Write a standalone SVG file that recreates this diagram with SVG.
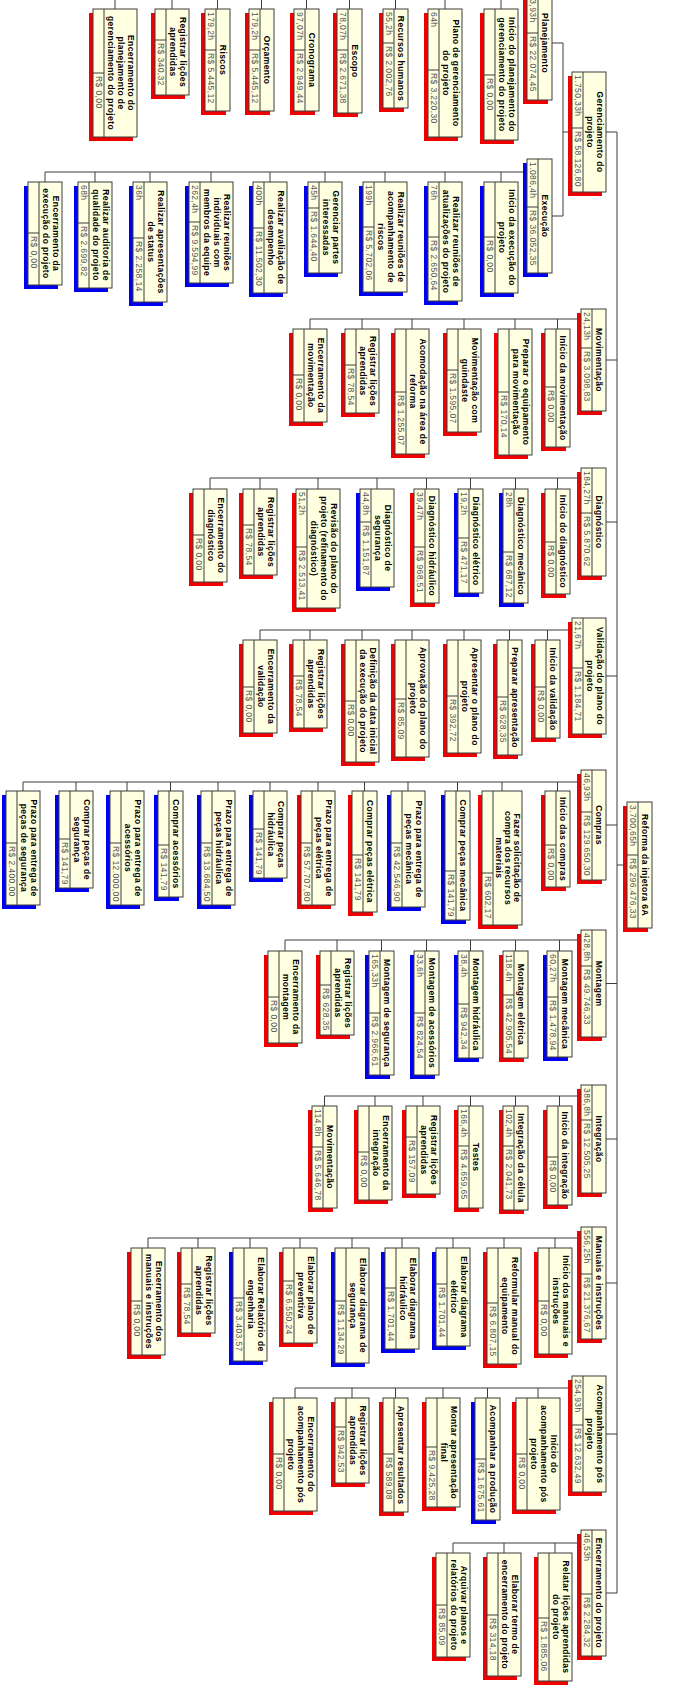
<svg xmlns="http://www.w3.org/2000/svg" width="699" height="1686" viewBox="0 0 699 1686">
<style>
.bx{fill:#ffffe1;stroke:#3c3c3c;stroke-width:1}
.sr{fill:#f00000}
.sb{fill:#0000f0}
.dv{stroke:#3c3c3c;stroke-width:1;fill:none}
.cn{stroke:#3c3c3c;stroke-width:1;fill:none}
.t{font-family:"Liberation Sans",Arial,sans-serif;font-size:8.5px;font-weight:bold;fill:#000;text-anchor:middle;letter-spacing:0.4px}
.v{font-family:"Liberation Sans",Arial,sans-serif;font-size:8.5px;fill:#555;letter-spacing:0.4px}
</style>
<rect width="699" height="1686" fill="#fff"/>
<g id="connectors" class="cn">
<path d="M617 132V1593M617 865H627M606 132H617M606 360H617M606 522H617M606 676H617M606 825H617M606 983.5H617M606 1139H617M606 1283H617M606 1434H617M606 1593H617"/>
<path d="M572 132H563M563 43V216M563 43H552M563 216H552"/>
<path d="M527 -3H115M501 -3V9M445 -3V9M395.5 -3V9M349.5 -3V9M306.5 -3V9M261.5 -3V9M217.5 -3V9M172 -3V9M115 -3V9"/>
<path d="M528 172H45M501 172V182M445 172V182M385 172V182M325 172V182M270 172V182M211 172V182M150 172V182M95 172V182M45 172V182"/>
<path d="M581 319H310M557.5 319V329M515 319V329M464 319V329M412 319V329M362 319V329M310 319V329"/>
<path d="M581 478H210M557.5 478V489M515.5 478V489M470.5 478V489M426.5 478V489M377 478V489M318 478V489M260 478V489M210 478V489"/>
<path d="M572 630H260M547.5 630V640M509.5 630V640M464 630V640M412 630V640M362 630V640M310 630V640M260 630V640"/>
<path d="M581 782H23M557.5 782V791M502 782V791M457.5 782V791M408 782V791M364.5 782V791M318 782V791M270 782V791M218 782V791M170.5 782V791M127 782V791M76 782V791M23 782V791"/>
<path d="M581 940H285M559.5 940V951M515.5 940V951M470.5 940V951M426.5 940V951M381.5 940V951M337 940V951M285 940V951"/>
<path d="M581 1096H324.5M559.5 1096V1106M515.5 1096V1106M470.5 1096V1106M423 1096V1106M375 1096V1106M324.5 1096V1106"/>
<path d="M581 1238H148M555 1238V1248M504 1238V1248M453 1238V1248M402 1238V1248M352 1238V1248M300 1238V1248M250 1238V1248M198 1238V1248M148 1238V1248"/>
<path d="M572 1388H295M538 1388V1398M487.5 1388V1398M443 1388V1398M395.5 1388V1398M352 1388V1398M295 1388V1398"/>
<path d="M581 1543H453M555 1543V1553M504 1543V1553M453 1543V1553"/>
</g>

<g id="n-root" transform="translate(652,802) rotate(90)"><rect class="sr" x="4" y="4" width="126" height="25"/><rect class="bx" width="126" height="25"/><path class="dv" d="M0 14H126M53 14V25"/><text class="t" x="63" y="10.5">Reforma da injetora 6A</text><text class="v" x="3" y="22.5">3.700,65h</text><text class="v" x="56" y="22.5">R$ 296.476,33</text></g>

<g id="n-gerenciamento" transform="translate(606,72) rotate(90)"><rect class="sr" x="4" y="4" width="120" height="34"/><rect class="bx" width="120" height="34"/><path class="dv" d="M0 23H120M56 23V34"/><text class="t" x="60" y="9.5">Gerenciamento do</text><text class="t" x="60" y="19.5">projeto</text><text class="v" x="3" y="31.5">1.750,33h</text><text class="v" x="59" y="31.5">R$ 58.126,80</text></g>

<g id="n-planejamento" transform="translate(552,-14) rotate(90)"><rect class="sr" x="4" y="4" width="114" height="25"/><rect class="bx" width="114" height="25"/><path class="dv" d="M0 14H114M47 14V25"/><text class="t" x="57" y="10.5">Planejamento</text><text class="v" x="3" y="22.5">663,93h</text><text class="v" x="50" y="22.5">R$ 22.074,45</text></g>

<g id="n-p1" transform="translate(518,9) rotate(90)"><rect class="sr" x="4" y="4" width="131" height="34"/><rect class="bx" width="131" height="34"/><path class="dv" d="M0 23H131M66 23V34"/><text class="t" x="65.5" y="9.5">Início do planejamento do</text><text class="t" x="65.5" y="19.5">gerenciamento do projeto</text><text class="v" x="69" y="31.5">R$ 0,00</text></g>
<g id="n-p2" transform="translate(462,9) rotate(90)"><rect class="sr" x="4" y="4" width="128" height="34"/><rect class="bx" width="128" height="34"/><path class="dv" d="M0 23H128M61 23V34"/><text class="t" x="64" y="9.5">Plano de gerenciamento</text><text class="t" x="64" y="19.5">do projeto</text><text class="v" x="3" y="31.5">64h</text><text class="v" x="64" y="31.5">R$ 3.220,30</text></g>
<g id="n-p3" transform="translate(408,9) rotate(90)"><rect class="sr" x="4" y="4" width="99" height="25"/><rect class="bx" width="99" height="25"/><path class="dv" d="M0 14H99M34 14V25"/><text class="t" x="49.5" y="10.5">Recursos humanos</text><text class="v" x="3" y="22.5">55,2h</text><text class="v" x="37" y="22.5">R$ 2.002,76</text></g>
<g id="n-p4" transform="translate(362,9) rotate(90)"><rect class="sr" x="4" y="4" width="104" height="25"/><rect class="bx" width="104" height="25"/><path class="dv" d="M0 14H104M41 14V25"/><text class="t" x="52" y="10.5">Escopo</text><text class="v" x="3" y="22.5">78,07h</text><text class="v" x="44" y="22.5">R$ 2.671,38</text></g>
<g id="n-p5" transform="translate(319,9) rotate(90)"><rect class="sr" x="4" y="4" width="102" height="25"/><rect class="bx" width="102" height="25"/><path class="dv" d="M0 14H102M41 14V25"/><text class="t" x="51" y="10.5">Cronograma</text><text class="v" x="3" y="22.5">97,07h</text><text class="v" x="44" y="22.5">R$ 2.949,44</text></g>
<g id="n-p6" transform="translate(274,9) rotate(90)"><rect class="sr" x="4" y="4" width="102" height="25"/><rect class="bx" width="102" height="25"/><path class="dv" d="M0 14H102M41 14V25"/><text class="t" x="51" y="10.5">Orçamento</text><text class="v" x="3" y="22.5">179,2h</text><text class="v" x="44" y="22.5">R$ 5.445,12</text></g>
<g id="n-p7" transform="translate(230,9) rotate(90)"><rect class="sr" x="4" y="4" width="102" height="25"/><rect class="bx" width="102" height="25"/><path class="dv" d="M0 14H102M41 14V25"/><text class="t" x="51" y="10.5">Riscos</text><text class="v" x="3" y="22.5">179,2h</text><text class="v" x="44" y="22.5">R$ 5.445,12</text></g>
<g id="n-p8" transform="translate(189,9) rotate(90)"><rect class="sr" x="4" y="4" width="86" height="34"/><rect class="bx" width="86" height="34"/><path class="dv" d="M0 23H86M31 23V34"/><text class="t" x="43" y="9.5">Registrar lições</text><text class="t" x="43" y="19.5">aprendidas</text><text class="v" x="34" y="31.5">R$ 340,32</text></g>
<g id="n-p9" transform="translate(137,9) rotate(90)"><rect class="sr" x="4" y="4" width="128" height="44"/><rect class="bx" width="128" height="44"/><path class="dv" d="M0 33H128M64 33V44"/><text class="t" x="64" y="9.5">Encerramento do</text><text class="t" x="64" y="19.5">planejamento de</text><text class="t" x="64" y="29.5">gerenciamento do projeto</text><text class="v" x="67" y="41.5">R$ 0,00</text></g>

<g id="n-execucao" transform="translate(552,159) rotate(90)"><rect class="sb" x="4" y="4" width="114" height="25"/><rect class="bx" width="114" height="25"/><path class="dv" d="M0 14H114M48 14V25"/><text class="t" x="57" y="10.5">Execução</text><text class="v" x="3" y="22.5">1.086,4h</text><text class="v" x="51" y="22.5">R$ 36.052,35</text></g>

<g id="n-x1" transform="translate(518,182) rotate(90)"><rect class="sb" x="4" y="4" width="111" height="34"/><rect class="bx" width="111" height="34"/><path class="dv" d="M0 23H111M55 23V34"/><text class="t" x="55.5" y="9.5">Início da execução do</text><text class="t" x="55.5" y="19.5">projeto</text><text class="v" x="58" y="31.5">R$ 0,00</text></g>
<g id="n-x2" transform="translate(462,182) rotate(90)"><rect class="sb" x="4" y="4" width="119" height="34"/><rect class="bx" width="119" height="34"/><path class="dv" d="M0 23H119M55 23V34"/><text class="t" x="59.5" y="9.5">Realizar reuniões de</text><text class="t" x="59.5" y="19.5">atualizações do projeto</text><text class="v" x="3" y="31.5">76h</text><text class="v" x="58" y="31.5">R$ 2.650,64</text></g>
<g id="n-x3" transform="translate(407,182) rotate(90)"><rect class="sb" x="4" y="4" width="110" height="44"/><rect class="bx" width="110" height="44"/><path class="dv" d="M0 33H110M45 33V44"/><text class="t" x="55" y="9.5">Realizar reuniões de</text><text class="t" x="55" y="19.5">acompanhamento de</text><text class="t" x="55" y="29.5">riscos</text><text class="v" x="3" y="41.5">199h</text><text class="v" x="48" y="41.5">R$ 5.702,06</text></g>
<g id="n-x4" transform="translate(342,182) rotate(90)"><rect class="sb" x="4" y="4" width="91" height="34"/><rect class="bx" width="91" height="34"/><path class="dv" d="M0 23H91M26 23V34"/><text class="t" x="45.5" y="9.5">Gerenciar partes</text><text class="t" x="45.5" y="19.5">interessadas</text><text class="v" x="3" y="31.5">45h</text><text class="v" x="29" y="31.5">R$ 1.644,40</text></g>
<g id="n-x5" transform="translate(287,182) rotate(90)"><rect class="sb" x="4" y="4" width="111" height="34"/><rect class="bx" width="111" height="34"/><path class="dv" d="M0 23H111M46 23V34"/><text class="t" x="55.5" y="9.5">Realizar avaliação de</text><text class="t" x="55.5" y="19.5">desempenho</text><text class="v" x="3" y="31.5">400h</text><text class="v" x="49" y="31.5">R$ 11.502,30</text></g>
<g id="n-x6" transform="translate(233,182) rotate(90)"><rect class="sb" x="4" y="4" width="101" height="44"/><rect class="bx" width="101" height="44"/><path class="dv" d="M0 33H101M40 33V44"/><text class="t" x="50.5" y="9.5">Realizar reuniões</text><text class="t" x="50.5" y="19.5">individuais com</text><text class="t" x="50.5" y="29.5">membros da equipe</text><text class="v" x="3" y="41.5">262,4h</text><text class="v" x="43" y="41.5">R$ 9.594,99</text></g>
<g id="n-x7" transform="translate(167,182) rotate(90)"><rect class="sb" x="4" y="4" width="120" height="34"/><rect class="bx" width="120" height="34"/><path class="dv" d="M0 23H120M56 23V34"/><text class="t" x="60" y="9.5">Realizar apresentações</text><text class="t" x="60" y="19.5">de status</text><text class="v" x="3" y="31.5">36h</text><text class="v" x="59" y="31.5">R$ 2.258,14</text></g>
<g id="n-x8" transform="translate(112,182) rotate(90)"><rect class="sb" x="4" y="4" width="106" height="34"/><rect class="bx" width="106" height="34"/><path class="dv" d="M0 23H106M41 23V34"/><text class="t" x="53" y="9.5">Realizar auditoria de</text><text class="t" x="53" y="19.5">qualidade do projeto</text><text class="v" x="3" y="31.5">68h</text><text class="v" x="44" y="31.5">R$ 2.699,82</text></g>
<g id="n-x9" transform="translate(62,182) rotate(90)"><rect class="sb" x="4" y="4" width="103" height="34"/><rect class="bx" width="103" height="34"/><path class="dv" d="M0 23H103M51 23V34"/><text class="t" x="51.5" y="9.5">Encerramento da</text><text class="t" x="51.5" y="19.5">execução do projeto</text><text class="v" x="54" y="31.5">R$ 0,00</text></g>

<g id="n-movimentacao" transform="translate(606,309) rotate(90)"><rect class="sr" x="4" y="4" width="102" height="25"/><rect class="bx" width="102" height="25"/><path class="dv" d="M0 14H102M39 14V25"/><text class="t" x="51" y="10.5">Movimentação</text><text class="v" x="3" y="22.5">24,13h</text><text class="v" x="42" y="22.5">R$ 3.098,83</text></g>
<g id="n-m1" transform="translate(570,329) rotate(90)"><rect class="sr" x="4" y="4" width="118" height="25"/><rect class="bx" width="118" height="25"/><path class="dv" d="M0 14H118M58 14V25"/><text class="t" x="59" y="10.5">Início da movimentação</text><text class="v" x="61" y="22.5">R$ 0,00</text></g>
<g id="n-m2" transform="translate(532,329) rotate(90)"><rect class="sr" x="4" y="4" width="126" height="34"/><rect class="bx" width="126" height="34"/><path class="dv" d="M0 23H126M63 23V34"/><text class="t" x="63" y="9.5">Preparar o equipamento</text><text class="t" x="63" y="19.5">para movimentação</text><text class="v" x="66" y="31.5">R$ 170,14</text></g>
<g id="n-m3" transform="translate(481,329) rotate(90)"><rect class="sr" x="4" y="4" width="103" height="34"/><rect class="bx" width="103" height="34"/><path class="dv" d="M0 23H103M41 23V34"/><text class="t" x="51.5" y="9.5">Movimentação com</text><text class="t" x="51.5" y="19.5">guindaste</text><text class="v" x="44" y="31.5">R$ 1.595,07</text></g>
<g id="n-m4" transform="translate(429,329) rotate(90)"><rect class="sr" x="4" y="4" width="125" height="34"/><rect class="bx" width="125" height="34"/><path class="dv" d="M0 23H125M63 23V34"/><text class="t" x="62.5" y="9.5">Acomodação na área de</text><text class="t" x="62.5" y="19.5">reforma</text><text class="v" x="66" y="31.5">R$ 1.255,07</text></g>
<g id="n-m5" transform="translate(379,329) rotate(90)"><rect class="sr" x="4" y="4" width="84" height="34"/><rect class="bx" width="84" height="34"/><path class="dv" d="M0 23H84M36 23V34"/><text class="t" x="42" y="9.5">Registrar lições</text><text class="t" x="42" y="19.5">aprendidas</text><text class="v" x="39" y="31.5">R$ 78,54</text></g>
<g id="n-m6" transform="translate(327,329) rotate(90)"><rect class="sr" x="4" y="4" width="93" height="34"/><rect class="bx" width="93" height="34"/><path class="dv" d="M0 23H93M46 23V34"/><text class="t" x="46.5" y="9.5">Encerramento da</text><text class="t" x="46.5" y="19.5">movimentação</text><text class="v" x="49" y="31.5">R$ 0,00</text></g>

<g id="n-diagnostico" transform="translate(606,468) rotate(90)"><rect class="sr" x="4" y="4" width="108" height="25"/><rect class="bx" width="108" height="25"/><path class="dv" d="M0 14H108M45 14V25"/><text class="t" x="54" y="10.5">Diagnóstico</text><text class="v" x="3" y="22.5">184,27h</text><text class="v" x="48" y="22.5">R$ 5.870,62</text></g>
<g id="n-d1" transform="translate(570,489) rotate(90)"><rect class="sr" x="4" y="4" width="105" height="25"/><rect class="bx" width="105" height="25"/><path class="dv" d="M0 14H105M53 14V25"/><text class="t" x="52.5" y="10.5">Início do diagnóstico</text><text class="v" x="56" y="22.5">R$ 0,00</text></g>
<g id="n-d2" transform="translate(528,489) rotate(90)"><rect class="sb" x="4" y="4" width="114" height="25"/><rect class="bx" width="114" height="25"/><path class="dv" d="M0 14H114M63 14V25"/><text class="t" x="57" y="10.5">Diagnóstico mecânico</text><text class="v" x="3" y="22.5">28h</text><text class="v" x="66" y="22.5">R$ 687,12</text></g>
<g id="n-d3" transform="translate(483,489) rotate(90)"><rect class="sb" x="4" y="4" width="104" height="25"/><rect class="bx" width="104" height="25"/><path class="dv" d="M0 14H104M49 14V25"/><text class="t" x="52" y="10.5">Diagnóstico elétrico</text><text class="v" x="3" y="22.5">19,2h</text><text class="v" x="52" y="22.5">R$ 471,17</text></g>
<g id="n-d4" transform="translate(439,489) rotate(90)"><rect class="sr" x="4" y="4" width="114" height="25"/><rect class="bx" width="114" height="25"/><path class="dv" d="M0 14H114M58 14V25"/><text class="t" x="57" y="10.5">Diagnóstico hidráulico</text><text class="v" x="3" y="22.5">39,47h</text><text class="v" x="61" y="22.5">R$ 968,51</text></g>
<g id="n-d5" transform="translate(394,489) rotate(90)"><rect class="sb" x="4" y="4" width="98" height="34"/><rect class="bx" width="98" height="34"/><path class="dv" d="M0 23H98M33 23V34"/><text class="t" x="49" y="9.5">Diagnóstico de</text><text class="t" x="49" y="19.5">segurança</text><text class="v" x="3" y="31.5">44,8h</text><text class="v" x="36" y="31.5">R$ 1.151,87</text></g>
<g id="n-d6" transform="translate(340,489) rotate(90)"><rect class="sr" x="4" y="4" width="119" height="44"/><rect class="bx" width="119" height="44"/><path class="dv" d="M0 33H119M58 33V44"/><text class="t" x="59.5" y="9.5">Revisão do plano do</text><text class="t" x="59.5" y="19.5">projeto (refinamento do</text><text class="t" x="59.5" y="29.5">diagnóstico)</text><text class="v" x="3" y="41.5">51,2h</text><text class="v" x="61" y="41.5">R$ 2.513,41</text></g>
<g id="n-d7" transform="translate(277,489) rotate(90)"><rect class="sr" x="4" y="4" width="86" height="34"/><rect class="bx" width="86" height="34"/><path class="dv" d="M0 23H86M36 23V34"/><text class="t" x="43" y="9.5">Registrar lições</text><text class="t" x="43" y="19.5">aprendidas</text><text class="v" x="39" y="31.5">R$ 78,54</text></g>
<g id="n-d8" transform="translate(227,489) rotate(90)"><rect class="sr" x="4" y="4" width="93" height="34"/><rect class="bx" width="93" height="34"/><path class="dv" d="M0 23H93M46 23V34"/><text class="t" x="46.5" y="9.5">Encerramento do</text><text class="t" x="46.5" y="19.5">diagnóstico</text><text class="v" x="49" y="31.5">R$ 0,00</text></g>

<g id="n-validacao" transform="translate(606,618) rotate(90)"><rect class="sr" x="4" y="4" width="116" height="34"/><rect class="bx" width="116" height="34"/><path class="dv" d="M0 23H116M50 23V34"/><text class="t" x="58" y="9.5">Validação do plano do</text><text class="t" x="58" y="19.5">projeto</text><text class="v" x="3" y="31.5">21,67h</text><text class="v" x="53" y="31.5">R$ 1.184,71</text></g>
<g id="n-v1" transform="translate(560,640) rotate(90)"><rect class="sr" x="4" y="4" width="98" height="25"/><rect class="bx" width="98" height="25"/><path class="dv" d="M0 14H98M47 14V25"/><text class="t" x="49" y="10.5">Início da validação</text><text class="v" x="50" y="22.5">R$ 0,00</text></g>
<g id="n-v2" transform="translate(522,640) rotate(90)"><rect class="sr" x="4" y="4" width="115" height="25"/><rect class="bx" width="115" height="25"/><path class="dv" d="M0 14H115M57 14V25"/><text class="t" x="57.5" y="10.5">Preparar apresentação</text><text class="v" x="60" y="22.5">R$ 628,35</text></g>
<g id="n-v3" transform="translate(481,640) rotate(90)"><rect class="sr" x="4" y="4" width="113" height="34"/><rect class="bx" width="113" height="34"/><path class="dv" d="M0 23H113M56 23V34"/><text class="t" x="56.5" y="9.5">Apresentar o plano do</text><text class="t" x="56.5" y="19.5">projeto</text><text class="v" x="59" y="31.5">R$ 392,72</text></g>
<g id="n-v4" transform="translate(429,640) rotate(90)"><rect class="sr" x="4" y="4" width="117" height="34"/><rect class="bx" width="117" height="34"/><path class="dv" d="M0 23H117M59 23V34"/><text class="t" x="58.5" y="9.5">Aprovação do plano do</text><text class="t" x="58.5" y="19.5">projeto</text><text class="v" x="62" y="31.5">R$ 85,09</text></g>
<g id="n-v5" transform="translate(379,640) rotate(90)"><rect class="sr" x="4" y="4" width="122" height="34"/><rect class="bx" width="122" height="34"/><path class="dv" d="M0 23H122M61 23V34"/><text class="t" x="61" y="9.5">Definição da data inicial</text><text class="t" x="61" y="19.5">da execução do projeto</text><text class="v" x="64" y="31.5">R$ 0,00</text></g>
<g id="n-v6" transform="translate(327,640) rotate(90)"><rect class="sr" x="4" y="4" width="88" height="34"/><rect class="bx" width="88" height="34"/><path class="dv" d="M0 23H88M36 23V34"/><text class="t" x="44" y="9.5">Registrar lições</text><text class="t" x="44" y="19.5">aprendidas</text><text class="v" x="39" y="31.5">R$ 78,54</text></g>
<g id="n-v7" transform="translate(277,640) rotate(90)"><rect class="sr" x="4" y="4" width="93" height="34"/><rect class="bx" width="93" height="34"/><path class="dv" d="M0 23H93M47 23V34"/><text class="t" x="46.5" y="9.5">Encerramento da</text><text class="t" x="46.5" y="19.5">validação</text><text class="v" x="50" y="31.5">R$ 0,00</text></g>

<g id="n-compras" transform="translate(606,770) rotate(90)"><rect class="sr" x="4" y="4" width="110" height="25"/><rect class="bx" width="110" height="25"/><path class="dv" d="M0 14H110M42 14V25"/><text class="t" x="55" y="10.5">Compras</text><text class="v" x="3" y="22.5">46,93h</text><text class="v" x="45" y="22.5">R$ 129.650,30</text></g>
<g id="n-c1" transform="translate(570,791) rotate(90)"><rect class="sr" x="4" y="4" width="96" height="25"/><rect class="bx" width="96" height="25"/><path class="dv" d="M0 14H96M54 14V25"/><text class="t" x="48" y="10.5">Início das compras</text><text class="v" x="57" y="22.5">R$ 0,00</text></g>
<g id="n-c2" transform="translate(522,791) rotate(90)"><rect class="sr" x="4" y="4" width="134" height="40"/><rect class="bx" width="134" height="40"/><path class="dv" d="M0 29H134M82 29V40"/><text class="t" x="67" y="8.5">Fazer solicitação de</text><text class="t" x="67" y="17.5">compra dos recursos</text><text class="t" x="67" y="26.5">materiais</text><text class="v" x="85" y="37.5">R$ 602,17</text></g>
<g id="n-c3" transform="translate(470,791) rotate(90)"><rect class="sb" x="4" y="4" width="129" height="25"/><rect class="bx" width="129" height="25"/><path class="dv" d="M0 14H129M80 14V25"/><text class="t" x="64.5" y="10.5">Comprar peças mecânica</text><text class="v" x="83" y="22.5">R$ 141,79</text></g>
<g id="n-c4" transform="translate(425,791) rotate(90)"><rect class="sb" x="4" y="4" width="116" height="34"/><rect class="bx" width="116" height="34"/><path class="dv" d="M0 23H116M52 23V34"/><text class="t" x="58" y="9.5">Prazo para entrega de</text><text class="t" x="58" y="19.5">peças mecânica</text><text class="v" x="55" y="31.5">R$ 42.546,90</text></g>
<g id="n-c5" transform="translate(377,791) rotate(90)"><rect class="sr" x="4" y="4" width="121" height="25"/><rect class="bx" width="121" height="25"/><path class="dv" d="M0 14H121M64 14V25"/><text class="t" x="60.5" y="10.5">Comprar peças elétrica</text><text class="v" x="67" y="22.5">R$ 141,79</text></g>
<g id="n-c6" transform="translate(335,791) rotate(90)"><rect class="sr" x="4" y="4" width="114" height="34"/><rect class="bx" width="114" height="34"/><path class="dv" d="M0 23H114M52 23V34"/><text class="t" x="57" y="9.5">Prazo para entrega de</text><text class="t" x="57" y="19.5">peças elétrica</text><text class="v" x="55" y="31.5">R$ 57.707,80</text></g>
<g id="n-c7" transform="translate(287,791) rotate(90)"><rect class="sb" x="4" y="4" width="87" height="34"/><rect class="bx" width="87" height="34"/><path class="dv" d="M0 23H87M38 23V34"/><text class="t" x="43.5" y="9.5">Comprar peças</text><text class="t" x="43.5" y="19.5">hidráulica</text><text class="v" x="41" y="31.5">R$ 141,79</text></g>
<g id="n-c8" transform="translate(235,791) rotate(90)"><rect class="sb" x="4" y="4" width="114" height="34"/><rect class="bx" width="114" height="34"/><path class="dv" d="M0 23H114M52 23V34"/><text class="t" x="57" y="9.5">Prazo para entrega de</text><text class="t" x="57" y="19.5">peças hidráulica</text><text class="v" x="55" y="31.5">R$ 13.684,50</text></g>
<g id="n-c9" transform="translate(183,791) rotate(90)"><rect class="sb" x="4" y="4" width="106" height="25"/><rect class="bx" width="106" height="25"/><path class="dv" d="M0 14H106M54 14V25"/><text class="t" x="53" y="10.5">Comprar acessórios</text><text class="v" x="57" y="22.5">R$ 141,79</text></g>
<g id="n-c10" transform="translate(144,791) rotate(90)"><rect class="sb" x="4" y="4" width="114" height="34"/><rect class="bx" width="114" height="34"/><path class="dv" d="M0 23H114M52 23V34"/><text class="t" x="57" y="9.5">Prazo para entrega de</text><text class="t" x="57" y="19.5">acessórios</text><text class="v" x="55" y="31.5">R$ 12.000,00</text></g>
<g id="n-c11" transform="translate(93,791) rotate(90)"><rect class="sb" x="4" y="4" width="97" height="34"/><rect class="bx" width="97" height="34"/><path class="dv" d="M0 23H97M48 23V34"/><text class="t" x="48.5" y="9.5">Comprar peças de</text><text class="t" x="48.5" y="19.5">segurança</text><text class="v" x="51" y="31.5">R$ 141,79</text></g>
<g id="n-c12" transform="translate(40,791) rotate(90)"><rect class="sb" x="4" y="4" width="114" height="34"/><rect class="bx" width="114" height="34"/><path class="dv" d="M0 23H114M52 23V34"/><text class="t" x="57" y="9.5">Prazo para entrega de</text><text class="t" x="57" y="19.5">peças de segurança</text><text class="v" x="55" y="31.5">R$ 2.400,00</text></g>

<g id="n-montagem" transform="translate(606,930) rotate(90)"><rect class="sr" x="4" y="4" width="107" height="25"/><rect class="bx" width="107" height="25"/><path class="dv" d="M0 14H107M36 14V25"/><text class="t" x="53.5" y="10.5">Montagem</text><text class="v" x="3" y="22.5">428,8h</text><text class="v" x="39" y="22.5">R$ 49.746,33</text></g>
<g id="n-mo1" transform="translate(572,951) rotate(90)"><rect class="sb" x="4" y="4" width="106" height="25"/><rect class="bx" width="106" height="25"/><path class="dv" d="M0 14H106M46 14V25"/><text class="t" x="53" y="10.5">Montagem mecânica</text><text class="v" x="3" y="22.5">60,27h</text><text class="v" x="49" y="22.5">R$ 1.478,94</text></g>
<g id="n-mo2" transform="translate(528,951) rotate(90)"><rect class="sr" x="4" y="4" width="107" height="25"/><rect class="bx" width="107" height="25"/><path class="dv" d="M0 14H107M44 14V25"/><text class="t" x="53.5" y="10.5">Montagem elétrica</text><text class="v" x="3" y="22.5">118,4h</text><text class="v" x="47" y="22.5">R$ 42.905,54</text></g>
<g id="n-mo3" transform="translate(483,951) rotate(90)"><rect class="sb" x="4" y="4" width="107" height="25"/><rect class="bx" width="107" height="25"/><path class="dv" d="M0 14H107M53 14V25"/><text class="t" x="53.5" y="10.5">Montagem hidráulica</text><text class="v" x="3" y="22.5">38,4h</text><text class="v" x="56" y="22.5">R$ 942,34</text></g>
<g id="n-mo4" transform="translate(439,951) rotate(90)"><rect class="sb" x="4" y="4" width="124" height="25"/><rect class="bx" width="124" height="25"/><path class="dv" d="M0 14H124M62 14V25"/><text class="t" x="62" y="10.5">Montagem de acessórios</text><text class="v" x="3" y="22.5">33,6h</text><text class="v" x="65" y="22.5">R$ 824,54</text></g>
<g id="n-mo5" transform="translate(394,951) rotate(90)"><rect class="sb" x="4" y="4" width="124" height="25"/><rect class="bx" width="124" height="25"/><path class="dv" d="M0 14H124M62 14V25"/><text class="t" x="62" y="10.5">Montagem de segurança</text><text class="v" x="3" y="22.5">165,33h</text><text class="v" x="65" y="22.5">R$ 2.966,61</text></g>
<g id="n-mo6" transform="translate(354,951) rotate(90)"><rect class="sr" x="4" y="4" width="84" height="34"/><rect class="bx" width="84" height="34"/><path class="dv" d="M0 23H84M34 23V34"/><text class="t" x="42" y="9.5">Registrar lições</text><text class="t" x="42" y="19.5">aprendidas</text><text class="v" x="37" y="31.5">R$ 628,35</text></g>
<g id="n-mo7" transform="translate(302,951) rotate(90)"><rect class="sr" x="4" y="4" width="92" height="34"/><rect class="bx" width="92" height="34"/><path class="dv" d="M0 23H92M46 23V34"/><text class="t" x="46" y="9.5">Encerramento da</text><text class="t" x="46" y="19.5">montagem</text><text class="v" x="49" y="31.5">R$ 0,00</text></g>

<g id="n-integracao" transform="translate(606,1085) rotate(90)"><rect class="sr" x="4" y="4" width="108" height="25"/><rect class="bx" width="108" height="25"/><path class="dv" d="M0 14H108M35 14V25"/><text class="t" x="54" y="10.5">Integração</text><text class="v" x="3" y="22.5">386,8h</text><text class="v" x="38" y="22.5">R$ 12.505,25</text></g>
<g id="n-i1" transform="translate(572,1106) rotate(90)"><rect class="sr" x="4" y="4" width="99" height="25"/><rect class="bx" width="99" height="25"/><path class="dv" d="M0 14H99M51 14V25"/><text class="t" x="49.5" y="10.5">Início da integração</text><text class="v" x="54" y="22.5">R$ 0,00</text></g>
<g id="n-i2" transform="translate(528,1106) rotate(90)"><rect class="sr" x="4" y="4" width="104" height="25"/><rect class="bx" width="104" height="25"/><path class="dv" d="M0 14H104M40 14V25"/><text class="t" x="52" y="10.5">Integração da célula</text><text class="v" x="3" y="22.5">102,4h</text><text class="v" x="43" y="22.5">R$ 2.041,73</text></g>
<g id="n-i3" transform="translate(483,1106) rotate(90)"><rect class="sr" x="4" y="4" width="102" height="25"/><rect class="bx" width="102" height="25"/><path class="dv" d="M0 14H102M40 14V25"/><text class="t" x="51" y="10.5">Testes</text><text class="v" x="3" y="22.5">166,4h</text><text class="v" x="43" y="22.5">R$ 4.659,65</text></g>
<g id="n-i4" transform="translate(440,1106) rotate(90)"><rect class="sr" x="4" y="4" width="88" height="34"/><rect class="bx" width="88" height="34"/><path class="dv" d="M0 23H88M31 23V34"/><text class="t" x="44" y="9.5">Registrar lições</text><text class="t" x="44" y="19.5">aprendidas</text><text class="v" x="34" y="31.5">R$ 157,09</text></g>
<g id="n-i5" transform="translate(392,1106) rotate(90)"><rect class="sr" x="4" y="4" width="94" height="34"/><rect class="bx" width="94" height="34"/><path class="dv" d="M0 23H94M46 23V34"/><text class="t" x="47" y="9.5">Encerramento da</text><text class="t" x="47" y="19.5">integração</text><text class="v" x="49" y="31.5">R$ 0,00</text></g>
<g id="n-i6" transform="translate(337,1106) rotate(90)"><rect class="sr" x="4" y="4" width="102" height="25"/><rect class="bx" width="102" height="25"/><path class="dv" d="M0 14H102M41 14V25"/><text class="t" x="51" y="10.5">Movimentação</text><text class="v" x="3" y="22.5">114,8h</text><text class="v" x="44" y="22.5">R$ 5.646,78</text></g>

<g id="n-manuais" transform="translate(606,1227) rotate(90)"><rect class="sr" x="4" y="4" width="112" height="25"/><rect class="bx" width="112" height="25"/><path class="dv" d="M0 14H112M47 14V25"/><text class="t" x="56" y="10.5">Manuais e instruções</text><text class="v" x="3" y="22.5">556,25h</text><text class="v" x="50" y="22.5">R$ 21.376,67</text></g>
<g id="n-ma1" transform="translate(572,1248) rotate(90)"><rect class="sr" x="4" y="4" width="106" height="34"/><rect class="bx" width="106" height="34"/><path class="dv" d="M0 23H106M53 23V34"/><text class="t" x="53" y="9.5">Início dos manuais e</text><text class="t" x="53" y="19.5">instruções</text><text class="v" x="56" y="31.5">R$ 0,00</text></g>
<g id="n-ma2" transform="translate(521,1248) rotate(90)"><rect class="sr" x="4" y="4" width="116" height="34"/><rect class="bx" width="116" height="34"/><path class="dv" d="M0 23H116M55 23V34"/><text class="t" x="58" y="9.5">Reformular manual do</text><text class="t" x="58" y="19.5">equipamento</text><text class="v" x="58" y="31.5">R$ 6.807,15</text></g>
<g id="n-ma3" transform="translate(470,1248) rotate(90)"><rect class="sb" x="4" y="4" width="98" height="34"/><rect class="bx" width="98" height="34"/><path class="dv" d="M0 23H98M36 23V34"/><text class="t" x="49" y="9.5">Elaborar diagrama</text><text class="t" x="49" y="19.5">elétrico</text><text class="v" x="39" y="31.5">R$ 1.701,44</text></g>
<g id="n-ma4" transform="translate(419,1248) rotate(90)"><rect class="sb" x="4" y="4" width="101" height="34"/><rect class="bx" width="101" height="34"/><path class="dv" d="M0 23H101M40 23V34"/><text class="t" x="50.5" y="9.5">Elaborar diagrama</text><text class="t" x="50.5" y="19.5">hidráulico</text><text class="v" x="43" y="31.5">R$ 1.701,44</text></g>
<g id="n-ma5" transform="translate(369,1248) rotate(90)"><rect class="sb" x="4" y="4" width="115" height="34"/><rect class="bx" width="115" height="34"/><path class="dv" d="M0 23H115M53 23V34"/><text class="t" x="57.5" y="9.5">Elaborar diagrama de</text><text class="t" x="57.5" y="19.5">segurança</text><text class="v" x="56" y="31.5">R$ 1.134,29</text></g>
<g id="n-ma6" transform="translate(317,1248) rotate(90)"><rect class="sr" x="4" y="4" width="95" height="34"/><rect class="bx" width="95" height="34"/><path class="dv" d="M0 23H95M33 23V34"/><text class="t" x="47.5" y="9.5">Elaborar plano de</text><text class="t" x="47.5" y="19.5">preventiva</text><text class="v" x="36" y="31.5">R$ 6.550,24</text></g>
<g id="n-ma7" transform="translate(267,1248) rotate(90)"><rect class="sb" x="4" y="4" width="113" height="34"/><rect class="bx" width="113" height="34"/><path class="dv" d="M0 23H113M50 23V34"/><text class="t" x="56.5" y="9.5">Elaborar Relatório de</text><text class="t" x="56.5" y="19.5">engenharia</text><text class="v" x="53" y="31.5">R$ 3.403,57</text></g>
<g id="n-ma8" transform="translate(215,1248) rotate(90)"><rect class="sr" x="4" y="4" width="85" height="34"/><rect class="bx" width="85" height="34"/><path class="dv" d="M0 23H85M36 23V34"/><text class="t" x="42.5" y="9.5">Registrar lições</text><text class="t" x="42.5" y="19.5">aprendidas</text><text class="v" x="39" y="31.5">R$ 78,54</text></g>
<g id="n-ma9" transform="translate(165,1248) rotate(90)"><rect class="sr" x="4" y="4" width="107" height="34"/><rect class="bx" width="107" height="34"/><path class="dv" d="M0 23H107M53 23V34"/><text class="t" x="53.5" y="9.5">Encerramento dos</text><text class="t" x="53.5" y="19.5">manuais e instruções</text><text class="v" x="56" y="31.5">R$ 0,00</text></g>

<g id="n-acompanhamento" transform="translate(606,1376) rotate(90)"><rect class="sr" x="4" y="4" width="116" height="34"/><rect class="bx" width="116" height="34"/><path class="dv" d="M0 23H116M49 23V34"/><text class="t" x="58" y="9.5">Acompanhamento pós</text><text class="t" x="58" y="19.5">projeto</text><text class="v" x="3" y="31.5">254,93h</text><text class="v" x="52" y="31.5">R$ 12.632,49</text></g>
<g id="n-a1" transform="translate(560,1398) rotate(90)"><rect class="sr" x="4" y="4" width="112" height="44"/><rect class="bx" width="112" height="44"/><path class="dv" d="M0 33H112M56 33V44"/><text class="t" x="56" y="9.5">Início do</text><text class="t" x="56" y="19.5">acompanhamento pós</text><text class="t" x="56" y="29.5">projeto</text><text class="v" x="59" y="41.5">R$ 0,00</text></g>
<g id="n-a2" transform="translate(500,1398) rotate(90)"><rect class="sb" x="4" y="4" width="122" height="25"/><rect class="bx" width="122" height="25"/><path class="dv" d="M0 14H122M61 14V25"/><text class="t" x="61" y="10.5">Acompanhar a produção</text><text class="v" x="64" y="22.5">R$ 1.675,61</text></g>
<g id="n-a3" transform="translate(460,1398) rotate(90)"><rect class="sr" x="4" y="4" width="109" height="34"/><rect class="bx" width="109" height="34"/><path class="dv" d="M0 23H109M49 23V34"/><text class="t" x="54.5" y="9.5">Montar apresentação</text><text class="t" x="54.5" y="19.5">final</text><text class="v" x="52" y="31.5">R$ 9.425,28</text></g>
<g id="n-a4" transform="translate(408,1398) rotate(90)"><rect class="sr" x="4" y="4" width="114" height="25"/><rect class="bx" width="114" height="25"/><path class="dv" d="M0 14H114M56 14V25"/><text class="t" x="57" y="10.5">Apresentar resultados</text><text class="v" x="59" y="22.5">R$ 589,08</text></g>
<g id="n-a5" transform="translate(369,1398) rotate(90)"><rect class="sr" x="4" y="4" width="85" height="34"/><rect class="bx" width="85" height="34"/><path class="dv" d="M0 23H85M29 23V34"/><text class="t" x="42.5" y="9.5">Registrar lições</text><text class="t" x="42.5" y="19.5">aprendidas</text><text class="v" x="32" y="31.5">R$ 942,53</text></g>
<g id="n-a6" transform="translate(317,1398) rotate(90)"><rect class="sr" x="4" y="4" width="113" height="44"/><rect class="bx" width="113" height="44"/><path class="dv" d="M0 33H113M56 33V44"/><text class="t" x="56.5" y="9.5">Encerramento do</text><text class="t" x="56.5" y="19.5">acompanhamento pós</text><text class="t" x="56.5" y="29.5">projeto</text><text class="v" x="59" y="41.5">R$ 0,00</text></g>

<g id="n-encerramento" transform="translate(606,1530) rotate(90)"><rect class="sr" x="4" y="4" width="126" height="25"/><rect class="bx" width="126" height="25"/><path class="dv" d="M0 14H126M64 14V25"/><text class="t" x="63" y="10.5">Encerramento do projeto</text><text class="v" x="3" y="22.5">46,53h</text><text class="v" x="67" y="22.5">R$ 2.284,32</text></g>
<g id="n-e1" transform="translate(572,1553) rotate(90)"><rect class="sr" x="4" y="4" width="128" height="34"/><rect class="bx" width="128" height="34"/><path class="dv" d="M0 23H128M65 23V34"/><text class="t" x="64" y="9.5">Relatar lições aprendidas</text><text class="t" x="64" y="19.5">do projeto</text><text class="v" x="68" y="31.5">R$ 1.885,06</text></g>
<g id="n-e2" transform="translate(521,1553) rotate(90)"><rect class="sr" x="4" y="4" width="123" height="34"/><rect class="bx" width="123" height="34"/><path class="dv" d="M0 23H123M62 23V34"/><text class="t" x="61.5" y="9.5">Elaborar termo de</text><text class="t" x="61.5" y="19.5">encerramento do projeto</text><text class="v" x="65" y="31.5">R$ 314,18</text></g>
<g id="n-e3" transform="translate(470,1553) rotate(90)"><rect class="sr" x="4" y="4" width="104" height="34"/><rect class="bx" width="104" height="34"/><path class="dv" d="M0 23H104M52 23V34"/><text class="t" x="52" y="9.5">Arquivar planos e</text><text class="t" x="52" y="19.5">relatórios do projeto</text><text class="v" x="55" y="31.5">R$ 85,09</text></g>
</svg>
